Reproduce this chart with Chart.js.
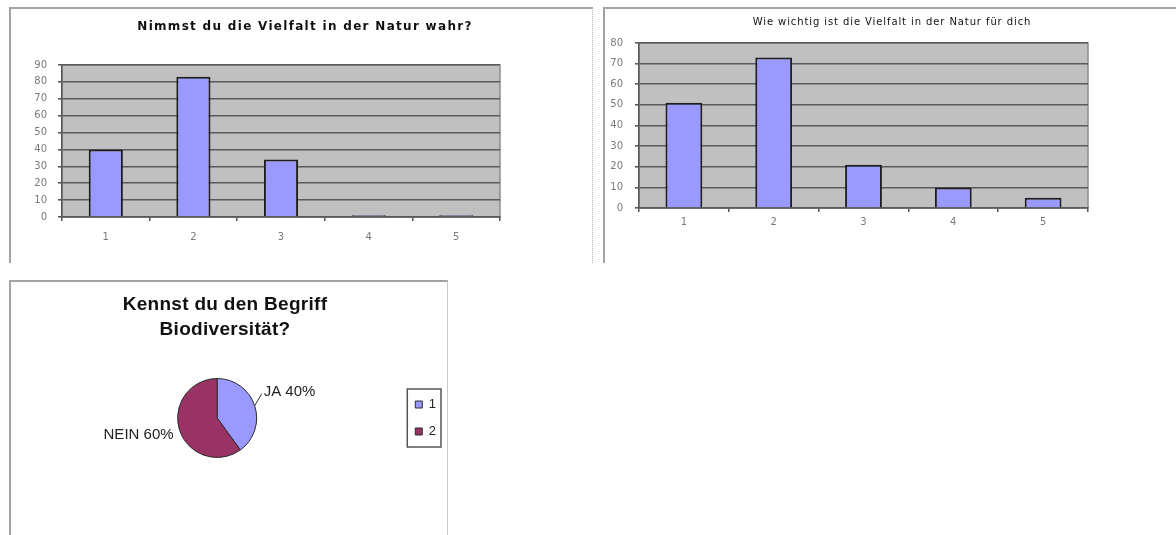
<!DOCTYPE html>
<html>
<head>
<meta charset="utf-8">
<title>Umfrage Vielfalt in der Natur</title>
<script src="https://cdn.jsdelivr.net/npm/chart.js@4.4.1/dist/chart.umd.min.js"></script>
<style>
  body { margin: 0; background: #fff; width: 1176px; height: 535px; overflow: hidden; position: relative; }
  .frame { position: absolute; box-sizing: border-box; border-top: 2px solid #a3a3a3; border-left: 2px solid #a3a3a3; }
  canvas { position: absolute; }
</style>
</head>
<body>
<div class="frame" style="left:9px;top:7px;width:584px;height:256px;border-right:1px dotted #b4b4b4;"></div>
<div class="frame" style="left:603px;top:7px;width:573px;height:256px;"></div>
<div class="frame" style="left:9px;top:280px;width:439px;height:260px;border-right:1px solid #cacaca;"></div>
<canvas id="seenChart" width="582" height="254" style="left:10px;top:8px"></canvas>
<canvas id="importanceChart" width="572" height="254" style="left:604px;top:8px"></canvas>
<canvas id="termChart" width="436" height="253" style="left:10px;top:282px"></canvas>
<script>
'use strict';

// answers 1..5
const categories = ['1', '2', '3', '4', '5'];
const seenValues = [40, 83, 34, 1, 1];
const importanceValues = [51, 73, 21, 10, 5];
const seenMax = 90;
const importanceMax = 80;
const tickStep = 10;

// pie: do you know the word
const pieLegend = ['1', '2'];
const pieNames = ['JA', 'NEIN'];
const pieShares = [40, 60];

Chart.defaults.font.family = 'DejaVu Sans';

// title drawn at a fixed spot (Excel centres it on the frame, not on the plot)
const makeTitle = (lines, x, y, font, lineHeight, spacing) => ({
	id: 'panelTitle',
	afterDraw(chart) {
		const ctx = chart.ctx;
		ctx.save();
		ctx.font = font;
		ctx.letterSpacing = spacing || '0px';
		ctx.fillStyle = '#111';
		ctx.textAlign = 'center';
		ctx.textBaseline = 'middle';
		lines.forEach((line, i) => ctx.fillText(line, x, y + i * lineHeight));
		ctx.restore();
	},
});

// grey plot area
const plotBackground = {
	id: 'plotBackground',
	beforeDraw(chart) {
		const { ctx, chartArea: a } = chart;
		ctx.save();
		ctx.fillStyle = '#c0c0c0';
		ctx.fillRect(a.left, a.top, a.width, a.height);
		ctx.strokeStyle = '#8c8c8c';
		ctx.lineWidth = 1.5;
		ctx.strokeRect(a.left, a.top, a.width, a.height);
		ctx.restore();
	},
};

const makeBarChart = (id, values, max, s) => {
	return new Chart(document.getElementById(id), {
		type: 'bar',
		data: {
			labels: categories,
			datasets: [
				{
					data: values,
					backgroundColor: '#9999ff',
					borderColor: '#1e1e1e',
					borderWidth: 2,
					borderSkipped: 'bottom',
					categoryPercentage: 1,
					barPercentage: s.barPct,
				},
			],
		},
		options: {
			responsive: false,
			animation: false,
			layout: { padding: s.padding },
			plugins: { legend: { display: false }, tooltip: { enabled: false } },
			scales: {
				x: {
					offset: true,
					grid: { offset: true, drawOnChartArea: false, tickLength: 4, tickColor: '#555', lineWidth: 1.5 },
					border: { color: '#5a5a5a', width: 1.5 },
					ticks: { color: '#7a7a7a', font: { size: 10 }, padding: s.xPad },
					afterFit: (scale) => {
						scale.height = 30;
					},
				},
				y: {
					min: 0,
					max: max,
					ticks: { stepSize: tickStep, color: '#7a7a7a', font: { size: 10 }, padding: s.yPad },
					grid: { color: '#5a5a5a', lineWidth: 1.6, tickLength: 4, tickColor: '#5a5a5a' },
					border: { color: '#555', width: 1.5 },
					afterFit: (scale) => {
						scale.width = s.yWidth;
					},
				},
			},
		},
		plugins: [plotBackground, makeTitle([s.title], s.titleX, s.titleY, s.titleFont, 0, s.titleSpacing)],
	});
};

makeBarChart('seenChart', seenValues, seenMax, {
	title: 'Nimmst du die Vielfalt in der Natur wahr?',
	titleX: 295,
	titleY: 19,
	titleFont: 'bold 12px "DejaVu Sans"',
	titleSpacing: '1.3px',
	padding: { left: 0, top: 57, right: 92, bottom: 15 },
	yWidth: 52,
	yPad: 11,
	xPad: 10,
	barPct: 0.39,
});

makeBarChart('importanceChart', importanceValues, importanceMax, {
	title: 'Wie wichtig ist die Vielfalt in der Natur für dich',
	titleX: 288,
	titleY: 14,
	titleFont: '10px "DejaVu Sans"',
	titleSpacing: '0.9px',
	padding: { left: 0, top: 35, right: 88, bottom: 24 },
	yWidth: 35,
	yPad: 12,
	xPad: 4,
	barPct: 0.41,
});

// "JA 40%" / "NEIN 60%" next to the slices
const pieLabels = {
	id: 'pieLabels',
	afterDatasetsDraw(chart) {
		const ctx = chart.ctx;
		const arcs = chart.getDatasetMeta(0).data;
		const shifts = [
			{ dx: 9, dy: -14, line: true },
			{ dx: -6, dy: 5, line: false },
		];
		ctx.save();
		ctx.font = '15px "Liberation Sans"';
		ctx.fillStyle = '#222';
		ctx.strokeStyle = '#333';
		ctx.lineWidth = 1;
		ctx.textBaseline = 'middle';
		arcs.forEach((arc, i) => {
			const mid = (arc.startAngle + arc.endAngle) / 2;
			const ex = arc.x + arc.outerRadius * Math.cos(mid);
			const ey = arc.y + arc.outerRadius * Math.sin(mid);
			const sh = shifts[i];
			if (sh.line) {
				ctx.beginPath();
				ctx.moveTo(ex, ey);
				ctx.lineTo(ex + sh.dx - 2, ey + sh.dy + 2);
				ctx.stroke();
			}
			ctx.textAlign = Math.cos(mid) >= 0 ? 'left' : 'right';
			ctx.fillText(`${pieNames[i]} ${pieShares[i]}%`, ex + sh.dx, ey + sh.dy);
		});
		ctx.restore();
	},
};

// box round the legend
const legendFrame = {
	id: 'legendFrame',
	afterDraw(chart) {
		const boxes = chart.legend.legendHitBoxes;
		if (!boxes || !boxes.length) return;
		const first = boxes[0];
		const last = boxes[boxes.length - 1];
		const ctx = chart.ctx;
		ctx.save();
		ctx.strokeStyle = '#555';
		ctx.lineWidth = 1.5;
		ctx.strokeRect(first.left - 8, first.top - 9, first.width + 13, last.top + last.height - first.top + 18);
		ctx.restore();
	},
};

new Chart(document.getElementById('termChart'), {
	type: 'pie',
	data: {
		labels: pieLegend,
		datasets: [
			{
				data: pieShares,
				backgroundColor: ['#9999ff', '#993366'],
				borderColor: '#2b2b2b',
				borderWidth: 1,
			},
		],
	},
	options: {
		responsive: false,
		animation: false,
		layout: { padding: { left: 23, right: 0, top: 96, bottom: 77 } },
		plugins: {
			tooltip: { enabled: false },
			legend: {
				position: 'right',
				labels: {
					boxWidth: 7,
					boxHeight: 7,
					padding: 14,
					color: '#222',
					font: { family: 'Liberation Sans', size: 13 },
				},
			},
		},
	},
	plugins: [
		makeTitle(['Kennst du den Begriff', 'Biodiversität?'], 215, 23, 'bold 19px "Liberation Sans"', 25, '0.3px'),
		pieLabels,
		legendFrame,
	],
});
</script>
</body>
</html>
